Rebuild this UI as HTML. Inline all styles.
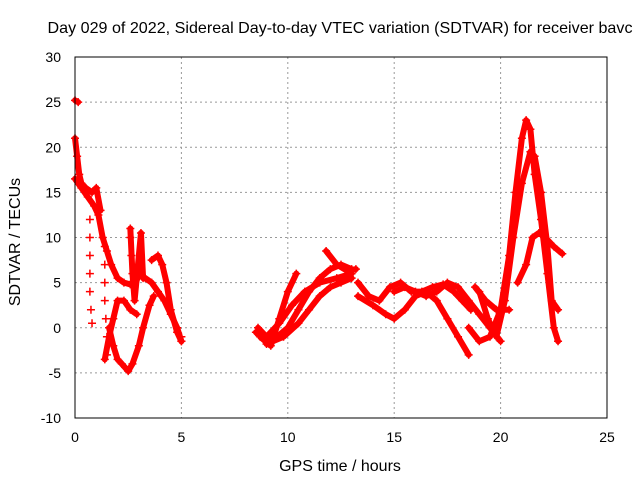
<!DOCTYPE html>
<html><head><meta charset="utf-8"><style>
body{margin:0;background:#fff;}
svg text{font-family:"Liberation Sans",sans-serif;font-size:14px;fill:#000;}
svg text.big{font-size:16px;}
</style></head><body>
<svg width="640" height="480">
<text x="340" y="33" class="big" text-anchor="middle" textLength="585" lengthAdjust="spacingAndGlyphs">Day 029 of 2022, Sidereal Day-to-day VTEC variation (SDTVAR) for receiver bavc</text>
<g id="grid"></g>
<g id="axes"></g>
<g id="plot"></g>
<rect x="75" y="57" width="532" height="361" fill="none" stroke="#000" stroke-width="1"/>
<text x="340" y="471" class="big" text-anchor="middle">GPS time / hours</text>
<text transform="translate(20,242) rotate(-90)" class="big" text-anchor="middle">SDTVAR / TECUs</text>
</svg>
<script>
const xTicks=[0,5,10,15,20,25];
const yTicks=[-10,-5,0,5,10,15,20,25,30];
const sA=[[0,16.5],[0.3,15.5],[0.6,14.5],[0.9,13.5],[1.1,12.5],[1.3,10],[1.5,8.5],[1.7,7],[2.0,5.5],[2.3,5],[2.6,4.8],[2.8,4.5],[3.0,6],[3.3,5.5],[3.6,5],[3.9,4],[4.2,3],[4.5,1.5],[4.8,0],[5.0,-1.5]];
const sB=[[0,21],[0.1,19],[0.2,17],[0.3,16],[0.5,15.5],[0.8,15],[1.0,15.5],[1.2,13]];
const sC=[[0,25.2],[0.15,25]];
const sD=[[1.6,0],[1.8,-2],[2.0,-3.5],[2.2,-4],[2.5,-4.8],[2.7,-4],[3.0,-2],[3.2,0],[3.5,2.5],[3.7,3.5]];
const sE=[[1.4,-3.5],[1.6,-1],[1.8,1],[2.0,3],[2.3,3],[2.6,2],[2.9,1.5]];
const sF=[[3.6,7.5],[3.9,8],[4.1,7],[4.3,5],[4.5,2],[4.8,-0.5],[5.0,-1.5]];
const sG=[[2.6,11],[2.7,6],[2.8,3],[3.1,10.5],[3.2,5.5]];
const sM1=[[8.5,-0.5],[9,-1.5],[9.5,-1],[10,0],[10.5,2],[11,4],[11.5,5.5],[12,6.5],[12.5,7],[13,6.5]];
const sM2=[[8.6,0],[9,-1],[9.6,0.5],[10.2,2.5],[10.8,4],[11.5,5],[12.3,5.5],[13,6]];
const sM3=[[8.7,-1],[9.2,-2],[9.6,1],[10,4],[10.4,6]];
const sM4=[[9,-1.8],[9.8,-1],[10.5,0.5],[11,2],[11.5,3.5],[12,4.5],[12.5,5],[13,5.5]];
const sM5=[[11.8,8.5],[12.3,7],[12.8,6.3],[13.2,6.5]];
const sN1=[[13.3,5],[13.8,3.5],[14.3,3],[14.8,4.5],[15.3,5],[15.8,4],[16.3,4],[16.8,4.5],[17.3,4.8],[17.8,4],[18.2,3],[18.6,2]];
const sN2=[[13.3,3.5],[14,2.5],[14.6,1.5],[15,1],[15.5,2],[16,3.5],[16.5,4],[17,3],[17.5,1],[18,-1],[18.5,-3]];
const sN3=[[15,4],[15.5,4.5],[16,4],[16.5,3.5],[17,4],[17.5,5],[18,4.5],[18.5,3],[19,1.5],[19.5,0],[20,-1.5]];
const sL1=[[18.5,0],[19,-1.5],[19.5,-1],[20,2],[20.4,8],[20.7,15],[21,21],[21.2,23],[21.4,22],[21.6,17],[21.9,12],[22.2,6],[22.5,0],[22.7,-1.5]];
const sL2=[[19,4],[19.4,1],[19.8,-1],[20.2,3],[20.6,10],[21,16],[21.4,19.5],[21.6,19],[21.9,15],[22.2,9],[22.4,3],[22.7,2]];
const sL3=[[20.8,5],[21.2,7],[21.5,10],[21.8,10.5],[22.1,10],[22.5,9],[22.9,8.2]];
const sL4=[[18.8,4.5],[19.3,3],[19.8,2],[20.4,2]];
const series=[sA,sB,sC,sD,sE,sF,sG,sM1,sM2,sM3,sM4,sM5,sN1,sN2,sN3,sL1,sL2,sL3,sL4];
const sparse=[[0.7,12],[0.7,10],[0.7,8],[0.7,6],[0.7,4],[0.75,2],[0.8,0.5],[1.4,9],[1.4,7],[1.4,5],[1.4,3],[1.45,1],[1.5,-1],[1.5,-3],[2.6,10],[2.65,8],[5.0,-1]];
const NS="http://www.w3.org/2000/svg";
const X=t=>75+t*532/25, Y=v=>418-(v+10)*361/40;
const grid=document.getElementById('grid'),axes=document.getElementById('axes'),plot=document.getElementById('plot');
function mk(tag,attrs,parent){const e=document.createElementNS(NS,tag);for(const k in attrs)e.setAttribute(k,attrs[k]);parent.appendChild(e);return e;}
xTicks.forEach(t=>{
 if(t>0&&t<25){const l=mk('line',{x1:X(t),x2:X(t),y1:57,y2:418,stroke:'#999','stroke-dasharray':'2,3'},grid);
 
 }
 const tx=mk('text',{x:X(t),y:442,'text-anchor':'middle'},axes);tx.textContent=t;
 
 
});
yTicks.forEach(v=>{
 if(v>-10&&v<30){const l=mk('line',{x1:75,x2:607,y1:Y(v),y2:Y(v),stroke:'#999','stroke-dasharray':'2,3'},grid);
 
 }
 const tx=mk('text',{x:61,y:Y(v)+5,'text-anchor':'end'},axes);tx.textContent=v;
 
 
});
function marker(d){
 const m=mk('path',{d:`M${X(d[0])-4},${Y(d[1])}h8M${X(d[0])},${Y(d[1])-4}v8`,stroke:'#f00','stroke-width':1.5},plot);
 
 
}
series.forEach((s,i)=>{
 const p=mk('polyline',{points:s.map(d=>X(d[0])+','+Y(d[1])).join(' '),fill:'none',stroke:'#f00','stroke-width':6,'stroke-linejoin':'round','stroke-linecap':'round'},plot);
 
 
 s.forEach(marker);
});
sparse.forEach(marker);
</script>
</body></html>
